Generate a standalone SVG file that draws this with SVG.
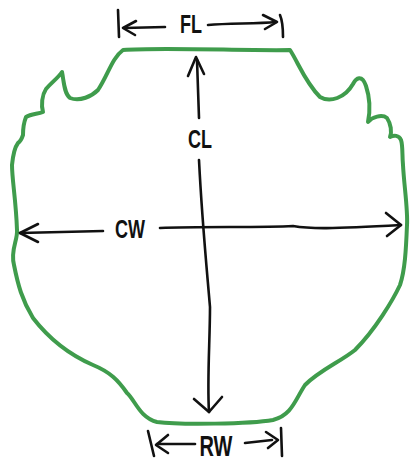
<svg xmlns="http://www.w3.org/2000/svg" width="412" height="462" viewBox="0 0 412 462">
<style>
.ink{fill:none;stroke:#111;stroke-width:2.6;stroke-linecap:round;stroke-linejoin:round}
.lbl{font-family:"Liberation Sans",Arial,sans-serif;font-weight:bold;fill:#111;text-anchor:middle}
</style>
<rect width="412" height="462" fill="#fff"/>
<g id="outline">
<path fill="none" stroke="#3f9c4c" stroke-width="4" stroke-linejoin="round" d="M123,50 C160,47 250,51 290,50 C298,62 305,82 320,97 C330,103 345,98 353,84 C356,78 362,74 366,86 C370,98 370,112 368,122 C372,117 382,114 387,118 C391,124 392,132 390,137 C394,135 399,135 401,140 C403,146 402,155 403,165 C404,185 408,210 407,225 C406,250 405,270 400,285 C393,300 375,330 355,350 C340,362 320,370 305,385 C295,400 292,415 273,420 C250,424 180,425 157,422 C140,418 135,400 127,393 C118,380 110,372 93,365 C70,355 50,340 33,318 C22,300 18,285 14,265 C10,250 18,240 17,230 C16,200 12,180 12,165 C13,155 15,147 18,143 C21,141 22,138 23,135 C23,128 24,122 26,117 C31,114 38,114 43,112 C41,105 42,95 46,89 C52,82 58,78 62,72 C64,82 64,93 70,98 C80,102 92,96 98,90 C108,75 112,58 123,50 Z"/>
</g>
<g id="connectors">
<g id="fl-dim">
<path class="ink" d="M118,10 L119,37"/>
<path class="ink" d="M136,21 L123,28 L135,35"/>
<path class="ink" d="M124,28 L165,27"/>
<path class="ink" d="M208,25 C230,23 255,24 276,22"/>
<path class="ink" d="M263,15 L277,22 L265,29"/>
<path class="ink" d="M280,15 C283,22 283,30 283,37"/>
</g>
<g id="cl-dim">
<path class="ink" d="M188,76 L196,57 L204,74"/>
<path class="ink" d="M197,60 L199,118"/>
<path class="ink" d="M199,160 C202,220 206,260 210,307 C210,340 207,380 209,412"/>
<path class="ink" d="M194,399 L209,412 L222,397"/>
</g>
<g id="cw-dim">
<path class="ink" d="M38,224 L20,233 L38,242"/>
<path class="ink" d="M20,233 L103,231"/>
<path class="ink" d="M160,228 C200,226 260,228 293,226 C310,229 330,229 401,225"/>
<path class="ink" d="M386,213 L401,225 L387,236"/>
</g>
<g id="rw-dim">
<path class="ink" d="M148,431 L154,456"/>
<path class="ink" d="M168,435 L156,445 L168,453"/>
<path class="ink" d="M157,444 L195,444"/>
<path class="ink" d="M245,443 L272,440"/>
<path class="ink" d="M266,432 L278,440 L268,448"/>
<path class="ink" d="M281,428 L282,456"/>
</g>
</g>
<g id="label-fl"><text class="lbl" transform="translate(191,33) scale(1,1.4)" font-size="18">FL</text></g>
<g id="label-cl"><text class="lbl" transform="translate(200,148) scale(1,1.4)" font-size="18">CL</text></g>
<g id="label-cw"><text class="lbl" transform="translate(130,238) scale(1,1.4)" font-size="18">CW</text></g>
<g id="label-rw"><text class="lbl" transform="translate(216,456) scale(1,1.45)" font-size="20">RW</text></g>
</svg>
